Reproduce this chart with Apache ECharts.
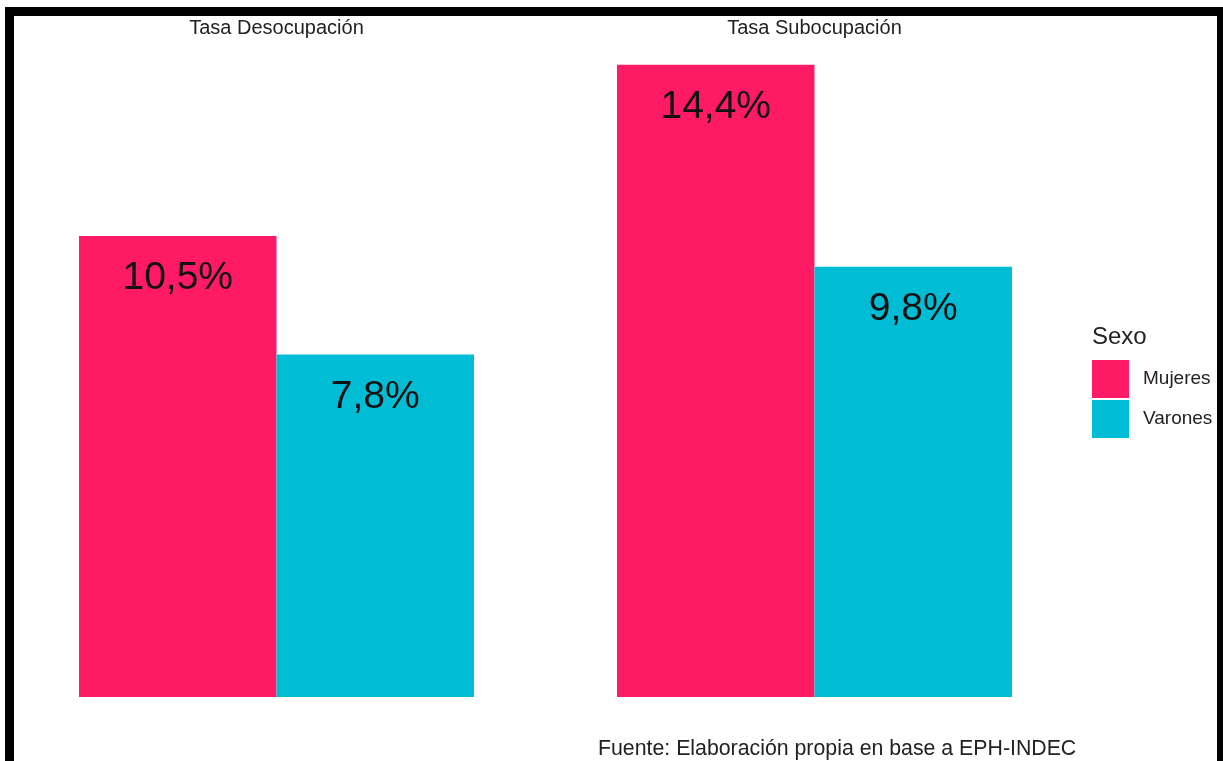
<!DOCTYPE html>
<html>
<head>
<meta charset="utf-8">
<script src="https://cdn.jsdelivr.net/npm/echarts@6/dist/echarts.min.js"></script>
<style>
html,body{margin:0;padding:0;background:#fff;}
#c{width:1223px;height:761px;}
</style>
</head>
<body>
<div id="c"></div>
<script>
const categories = ["Tasa Desocupación", "Tasa Subocupación"];
const seriesNames = ["Mujeres", "Varones"];
const mujeres = [10.5, 14.4];
const varones = [7.8, 9.8];
const legendTitle = "Sexo";
const caption = "Fuente: Elaboración propia en base a EPH-INDEC";

const fmt = p => p.value.toFixed(1).replace('.', ',') + '%';
const font = '"Liberation Sans", Arial, sans-serif';

const chart = echarts.init(document.getElementById('c'), null, {renderer: 'canvas'});
const labelCfg = {
  show: true, position: 'insideTop', distance: 23,
  formatter: fmt, color: '#111', fontSize: 39, fontFamily: font
};
chart.setOption({
  backgroundColor: '#fff',
  animation: false,
  title: [
    {text: legendTitle, left: 1092, top: 325, padding: 0, textStyle: {fontSize: 24, fontWeight: 'normal', color: '#222', fontFamily: font}},
    {text: caption, left: 598, top: 739, padding: 0, textStyle: {fontSize: 21.3, fontWeight: 'normal', color: '#222', fontFamily: font}}
  ],
  legend: {
    orient: 'vertical', left: 1092, top: 360, padding: 0,
    itemWidth: 37, itemHeight: 38, itemGap: 2, icon: 'rect',
    data: seriesNames,
    textStyle: {fontSize: 19, color: '#222', fontFamily: font, padding: [4, 0, 0, 9]}
  },
  grid: {left: 7.5, right: 139.5, top: 38.4, bottom: 64, containLabel: false},
  xAxis: {
    type: 'category', data: categories, position: 'top',
    axisLine: {show: false}, axisTick: {show: false},
    axisLabel: {margin: 0, fontSize: 20, color: '#222', fontFamily: font}
  },
  yAxis: {type: 'value', min: 0, max: 15, show: false, splitLine: {show: false}},
  series: [
    {name: seriesNames[0], type: 'bar', data: mujeres, barWidth: 197.5, barGap: '0%',
     itemStyle: {color: '#FF1A66'}, label: labelCfg},
    {name: seriesNames[1], type: 'bar', data: varones, barWidth: 197.5, barGap: '0%',
     itemStyle: {color: '#00BDD5'}, label: labelCfg}
  ],
  graphic: [
    {type: 'rect', z: 100, shape: {x: 5, y: 7, width: 1218, height: 9}, style: {fill: '#000'}},
    {type: 'rect', z: 100, shape: {x: 5, y: 7, width: 9, height: 754}, style: {fill: '#000'}},
    {type: 'rect', z: 100, shape: {x: 1217, y: 7, width: 6, height: 754}, style: {fill: '#000'}}
  ]
});
</script>
</body>
</html>
